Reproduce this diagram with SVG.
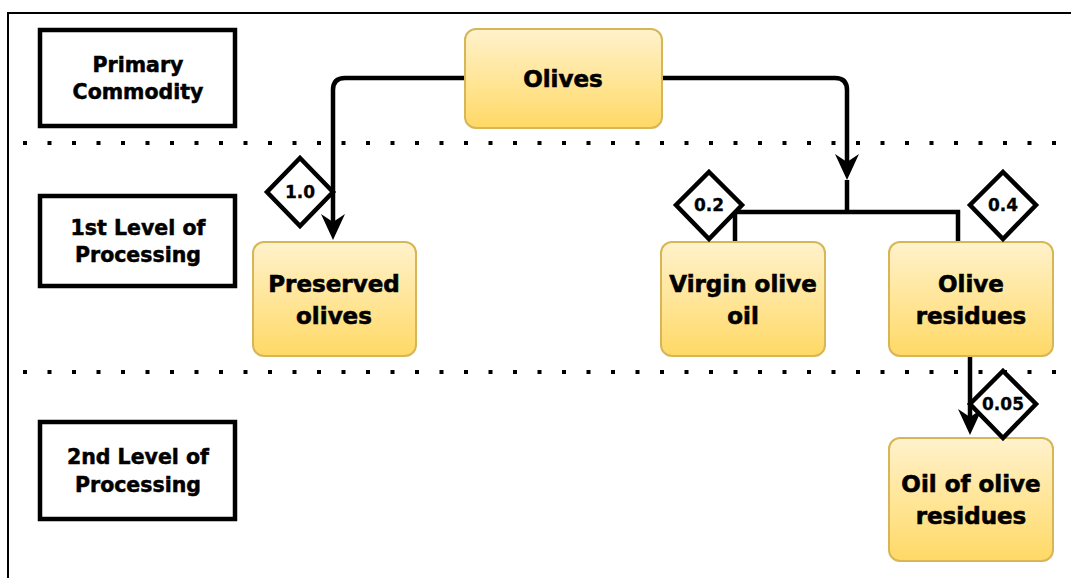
<svg xmlns="http://www.w3.org/2000/svg" width="1071" height="578" viewBox="0 0 1071 578">
<defs>
<linearGradient id="yg" x1="0" y1="0" x2="0" y2="1">
<stop offset="0" stop-color="#fff2cc"/>
<stop offset="1" stop-color="#ffd966"/>
</linearGradient>
<marker id="arr" viewBox="0 0 26 26" refX="8" refY="13" markerWidth="26" markerHeight="26" markerUnits="userSpaceOnUse" orient="auto">
<path d="M0,1 L26,13 L0,25 L8,13 Z" fill="#000"/>
</marker>
<style>
.node rect{fill:url(#yg);stroke:#d6b656;stroke-width:2}
.lbl rect{fill:#fff;stroke:#000;stroke-width:4.5}
.nt{font-family:"DejaVu Sans","Verdana",sans-serif;font-weight:bold;font-size:23px;fill:#000;stroke:#000;stroke-width:0.6;text-anchor:middle}
.lt{font-family:"DejaVu Sans","Verdana",sans-serif;font-weight:bold;font-size:20.5px;fill:#000;stroke:#000;stroke-width:0.5;text-anchor:middle}
.dt{font-family:"DejaVu Sans","Verdana",sans-serif;font-weight:bold;font-size:17px;fill:#000;stroke:#000;stroke-width:0.3;text-anchor:middle}
.dia polygon{fill:#fff;stroke:#000;stroke-width:4.5;stroke-linejoin:miter}
.con{fill:none;stroke:#000;stroke-width:4.5}
.dots{stroke:#000;stroke-width:4;stroke-dasharray:4 20.5}
</style>
</defs>
<rect x="0" y="0" width="1071" height="578" fill="#fff"/>
<path d="M8 578 V13 H1071" fill="none" stroke="#000" stroke-width="2"/>
<g id="separators">
<line class="dots" x1="23" y1="143" x2="1071" y2="143"/>
<line class="dots" x1="23" y1="372" x2="1071" y2="372"/>
</g>
<g id="label-primary" class="lbl">
<rect x="40" y="30" width="195" height="96"/>
<text class="lt" x="138" y="72">Primary</text>
<text class="lt" x="138" y="99">Commodity</text>
</g>
<g id="label-level1" class="lbl">
<rect x="40" y="196" width="195" height="90"/>
<text class="lt" x="138" y="235">1st Level of</text>
<text class="lt" x="138" y="262">Processing</text>
</g>
<g id="label-level2" class="lbl">
<rect x="40" y="422" width="195" height="97"/>
<text class="lt" x="138" y="464">2nd Level of</text>
<text class="lt" x="138" y="492">Processing</text>
</g>
<g id="connectors">
<path class="con" d="M465 78 H345 Q333 78 333 90 V222" marker-end="url(#arr)"/>
<path class="con" d="M653 78 H835 Q847 78 847 90 V162" marker-end="url(#arr)"/>
<path class="con" d="M847 180 V212"/>
<path class="con" d="M735 246 V212 H958 V246"/>
<path class="con" d="M970 357 V417" marker-end="url(#arr)"/>
</g>
<g id="olives" class="node">
<rect x="465" y="29" width="197" height="99" rx="11"/>
<text class="nt" x="563" y="87">Olives</text>
</g>
<g id="preserved-olives" class="node">
<rect x="253" y="242" width="163" height="114" rx="11"/>
<text class="nt" x="334" y="292">Preserved</text>
<text class="nt" x="334" y="324">olives</text>
</g>
<g id="virgin-olive-oil" class="node">
<rect x="661" y="242" width="164" height="114" rx="11"/>
<text class="nt" x="743" y="292">Virgin olive</text>
<text class="nt" x="743" y="324">oil</text>
</g>
<g id="olive-residues" class="node">
<rect x="889" y="242" width="164" height="114" rx="11"/>
<text class="nt" x="971" y="292">Olive</text>
<text class="nt" x="971" y="324">residues</text>
</g>
<g id="oil-of-olive-residues" class="node">
<rect x="889" y="438" width="164" height="123" rx="11"/>
<text class="nt" x="971" y="492">Oil of olive</text>
<text class="nt" x="971" y="524">residues</text>
</g>
<g id="ratio-1-0" class="dia">
<polygon points="300,158 333,192 300,226 267,192"/>
<text class="dt" x="300" y="198">1.0</text>
</g>
<g id="ratio-0-2" class="dia">
<polygon points="709,172 742,205 709,239 676,205"/>
<text class="dt" x="709" y="211">0.2</text>
</g>
<g id="ratio-0-4" class="dia">
<polygon points="1003,172 1036,205 1003,239 970,205"/>
<text class="dt" x="1003" y="211">0.4</text>
</g>
<g id="ratio-0-05" class="dia">
<polygon points="1003,371 1036,404 1003,438 970,404"/>
<text class="dt" x="1003" y="410">0.05</text>
</g>
</svg>
